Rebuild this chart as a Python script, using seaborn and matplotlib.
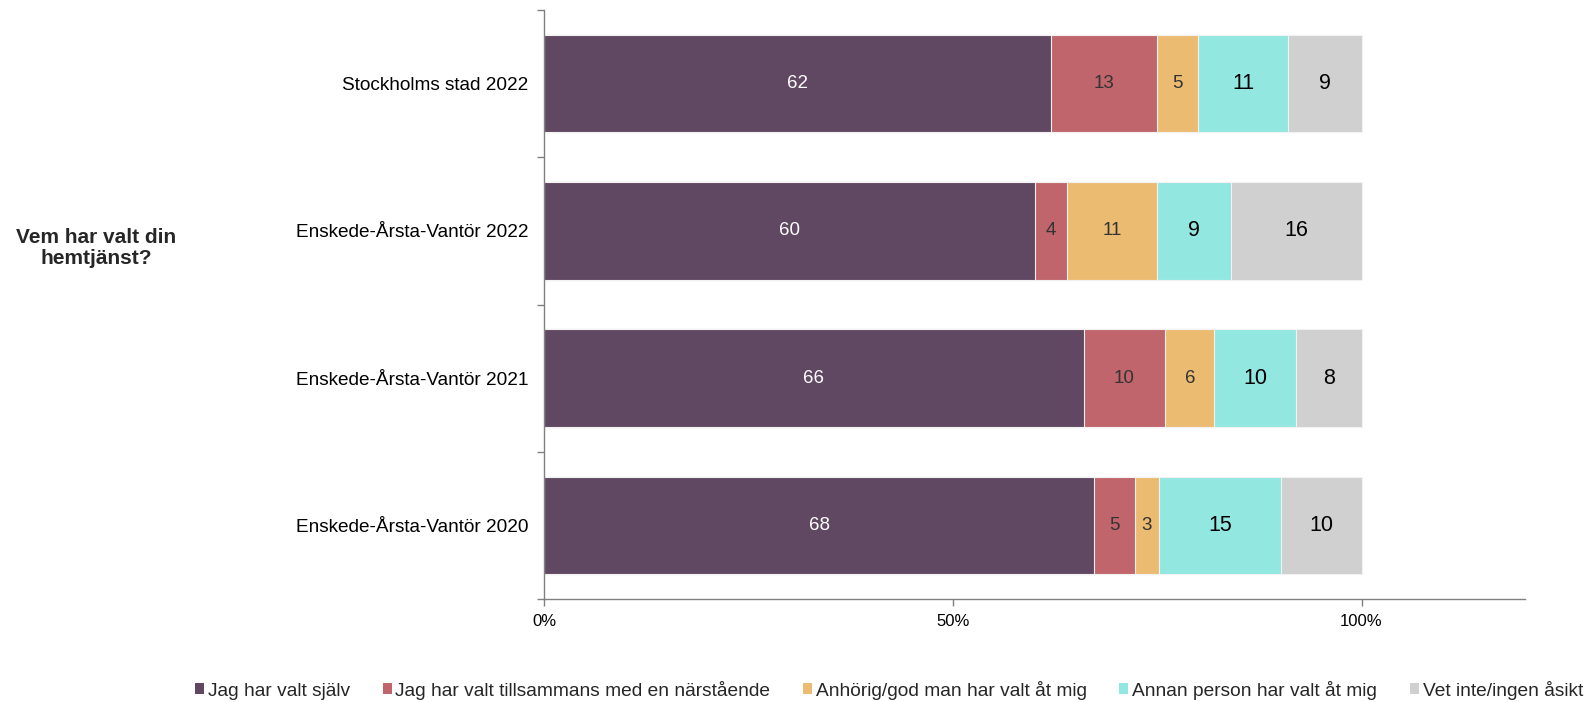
import matplotlib
matplotlib.use("Agg")
import matplotlib.pyplot as plt
import seaborn as sns
import pandas as pd
import numpy as np
from matplotlib.ticker import FixedLocator, PercentFormatter
from matplotlib.patches import Patch

categories = ["Stockholms stad 2022", "Enskede-Årsta-Vantör 2022",
              "Enskede-Årsta-Vantör 2021", "Enskede-Årsta-Vantör 2020"]
series_names = ["Jag har valt själv", "Jag har valt tillsammans med en närstående",
                "Anhörig/god man har valt åt mig", "Annan person har valt åt mig",
                "Vet inte/ingen åsikt"]
valt_sjalv = [62, 60, 66, 68]
tillsammans = [13, 4, 10, 5]
anhorig = [5, 11, 6, 3]
annan_person = [11, 9, 10, 15]
vet_inte = [9, 16, 8, 10]
colors = ["#614862", "#C0656C", "#EBBB72", "#93E7E1", "#D0D0D0"]
label_colors = ["white", "#333333", "#333333", "black", "black"]
label_sizes = [13.5, 13.5, 13.5, 15.5, 15.5]

sns.set_theme(style="white")
plt.rcParams['font.family'] = ['Liberation Sans', 'DejaVu Sans']

series = [valt_sjalv, tillsammans, anhorig, annan_person, vet_inte]
vals = np.array(series, dtype=float)  # shape (5, 4)
shares = vals / vals.sum(axis=0)
cum = np.cumsum(shares, axis=0)

W, H = 1588, 702
fig = plt.figure(figsize=(W / 100, H / 100), dpi=100)
ax = fig.add_axes([544 / W, 1 - 599 / H, (1525 - 544) / W, (599 - 10) / H])

# draw cumulative bars back-to-front to create stacked look
for i in reversed(range(len(series))):
    df = pd.DataFrame({"cat": categories, "val": cum[i]})
    sns.barplot(data=df, y="cat", x="val", orient="h", color=colors[i],
                width=0.663, ax=ax, saturation=1, edgecolor="#f2f2f2", linewidth=0.8)

# value labels
for i in range(len(series)):
    for j, c in enumerate(categories):
        start = cum[i][j] - shares[i][j]
        ax.text(start + shares[i][j] / 2, j, f"{series[i][j]}", ha="center", va="center",
                color=label_colors[i], fontsize=label_sizes[i])

ax.set_xlim(0, 1.2)
ax.set_ylim(3.5, -0.5)
ax.xaxis.set_major_locator(FixedLocator([0, 0.5, 1.0]))
ax.xaxis.set_major_formatter(PercentFormatter(1.0, decimals=0))
ax.yaxis.set_minor_locator(FixedLocator([-0.5, 0.5, 1.5, 2.5, 3.5]))
ax.set_xlabel("")
ax.set_ylabel("")
for s in ["top", "right"]:
    ax.spines[s].set_visible(False)
for s in ["left", "bottom"]:
    ax.spines[s].set_color("#808080")
    ax.spines[s].set_linewidth(1.0)
ax.tick_params(axis="y", which="major", length=0, pad=11.5, labelsize=13.7, labelcolor="black")
ax.tick_params(axis="y", which="minor", length=5, width=1, color="#808080", left=True)
ax.tick_params(axis="x", which="major", length=5, width=1, color="#808080", bottom=True,
               pad=6, labelsize=12, labelcolor="black")

fig.text(96 / W, 1 - 248 / H, "Vem har valt din\nhemtjänst?", ha="center", va="center",
         fontsize=15, fontweight="bold", multialignment="center", linespacing=1.1)

handles = [Patch(facecolor=c, edgecolor="none") for c in colors]
leg = fig.legend(handles, series_names, loc="center left", bbox_to_anchor=(195 / W, 1 - 690 / H),
                 ncol=5, frameon=False, fontsize=13.8, handlelength=0.47, handleheight=0.47,
                 handletextpad=0.2, columnspacing=1.7, borderpad=0, borderaxespad=0)

fig.savefig("out.png", dpi=100)
